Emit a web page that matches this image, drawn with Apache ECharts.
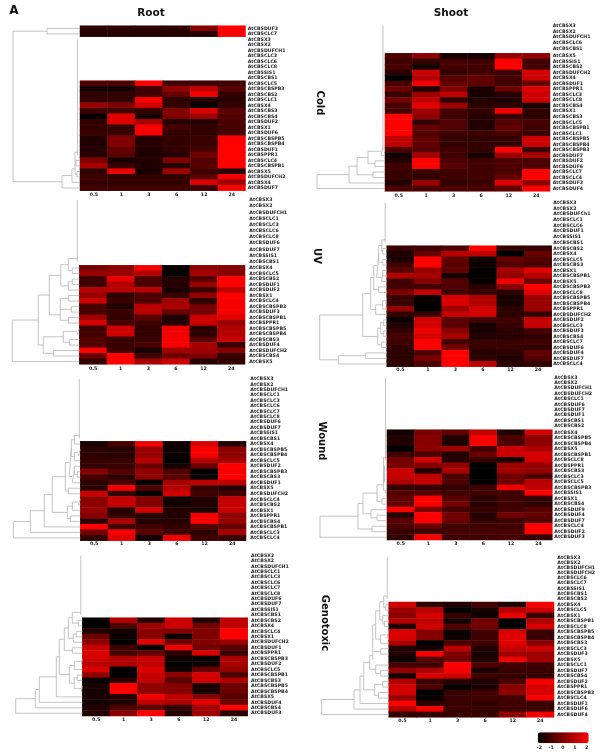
<!DOCTYPE html>
<html>
<head>
<meta charset="utf-8">
<title>CBS genes</title>
<script src="https://cdn.jsdelivr.net/npm/echarts@6/dist/echarts.min.js"></script>
<style>
  html, body { margin: 0; background: #fff; }
  #chart { width: 600px; height: 756px; filter: blur(0.3px); }
</style>
</head>
<body>
<div id="chart"></div>
<script>
const hours = ['0.5', '1', '3', '6', '12', '24'];
const scaleTicks = [-2, -1, 0, 1, 2];

// Root / Cold (no blank block on top, empty rows are kept in the matrix)
const rootColdGenes = ['AtCBSDUF3','AtCBSCLC7','AtCBSX3','AtCBSX2','AtCBSDUFCH1','AtCBSCLC3','AtCBSCLC6','AtCBSCLC8','AtCBSSIS1','AtCBSCBS1','AtCBSCLC5','AtCBSCBSPB3','AtCBSCBS2','AtCBSCLC1','AtCBSX4','AtCBSCBS3','AtCBSCBS4','AtCBSDUF2','AtCBSX1','AtCBSDUF6','AtCBSCBSPB5','AtCBSCBSPB4','AtCBSDUF1','AtCBSPPR1','AtCBSCLC4','AtCBSCBSPB1','AtCBSX5','AtCBSDUFCH2','AtCBSX4','AtCBSDUF7'];
const rootColdValues = [
  [-1.3,-1.3,-1.3,-1.3,0.1,2],
  [-1.4,-1.4,-1.4,-1.4,-1.4,2],
  [],[],[],[],[],[],[],[],
  [-0.7,-0.7,1.9,-1,-1,-1],
  [-1.7,-1.7,-1,0.3,1,-0.6],
  [-1.2,-1.2,-1,-0.4,1.8,-1.2],
  [-1.2,-1.2,1.9,-1.3,-1.5,-1.3],
  [0.4,0,1.3,-1.2,-1.9,-1.2],
  [-1,-1,-1.2,0,1.4,-0.6],
  [-1.9,1.5,-1.6,0,0.5,-0.7],
  [-1.2,1.5,0.6,-1.4,-1.4,-0.8],
  [-1.2,-1.2,1.9,-0.9,-1.2,-0.9],
  [-1.1,-1.1,1.9,-1.2,-1.2,-0.9],
  [-1.5,0,-1.4,-1.2,-1.1,2],
  [-1.5,0,-1.4,-1.2,-1.1,2],
  [-1.4,-0.4,-1.5,-1.2,-0.9,2],
  [-1.4,-0.6,-1.5,-1.4,-0.2,2],
  [0,-1.6,-1.5,0,-0.7,2],
  [0.6,-1.1,-1.5,-1.4,-0.6,2],
  [-1.3,1.7,-1.6,0.5,-1,-1.4],
  [-1,-1.2,-1.2,-1.2,-0.6,1.8],
  [-1.2,-1.2,-1.2,-1.2,1.5,0.5],
  [-1,-1,-1,-1,-1,2]
];
const rootColdTree = [67,[33,0,1],[18,[8,[5,[2.5,2,3,4,5,6,7,8,9,10,11,12,13,14,15,16,17,18,19,20,21,22,23],[4,24,25],[3,26,27]],28],29]];

// Shoot / Cold
const shootColdBlank = ['AtCBSX3','AtCBSX2','AtCBSDUFCH1','AtCBSCLC6','AtCBSCBS1'];
const shootColdGenes = ['AtCBSX5','AtCBSSIS1','AtCBSCBS2','AtCBSDUFCH2','AtCBSX4','AtCBSDUF1','AtCBSPPR1','AtCBSCLC3','AtCBSCLC8','AtCBSCBS4','AtCBSX1','AtCBSCBS3','AtCBSCLC5','AtCBSCBSPB1','AtCBSCLC1','AtCBSCBSPB5','AtCBSCBSPB4','AtCBSCBSPB3','AtCBSDUF7','AtCBSDUF2','AtCBSDUF6','AtCBSCLC7','AtCBSCLC4','AtCBSDUF3','AtCBSDUF4'];
const shootColdValues = [
  [-0.8,0.2,-1.6,-1.7,0.3,0.3],
  [-1,-1.2,-0.9,-1,2,-1],
  [-0.9,-1.7,-0.9,-1,2,-1],
  [-1.3,1.2,-1.2,-1,-1,1.3],
  [-2,0.8,-0.6,-0.5,-1,1.2],
  [-0.9,1.8,-0.5,-0.5,-1,-0.4],
  [-0.3,-1.5,0,-1.6,-0.3,1.4],
  [-1.1,0.4,1,-1.6,-1.4,1.2],
  [-0.2,1,-1.3,-1.5,-1.5,1.2],
  [-0.9,1.6,0.5,-1.3,-1.3,-1.6],
  [-0.9,0.5,-0.9,-1.2,1.8,-1.2],
  [2,0.2,-1,-1.4,-1.1,-1.3],
  [2,-1.2,-0.7,-1.5,-0.7,-0.9],
  [2,-0.4,-0.7,-1.5,-0.5,-1],
  [2,-0.7,-1,-1,-0.8,-1.1],
  [1,-0.5,-1.2,-1.2,-1.2,1.2],
  [1,-0.5,-1.2,-1.2,-1.2,1.2],
  [-0.8,-0.6,-1,-1.2,2,-1.1],
  [-1.7,0.6,-1,-1.6,0.5,0.7],
  [-1.4,2,-0.8,-1,-0.8,-0.8],
  [-1,2,-0.6,-1,-0.8,-0.8],
  [-1.1,-1.1,-1,-1,-0.8,2],
  [-1.1,-1.2,-1,-1,-0.4,2],
  [-1.5,0.4,-1.2,-1.1,1.5,0.2],
  [-0.8,-0.8,-0.8,-0.8,-0.5,1.9]
];
const shootColdTree = [68,[36,[28,[17,[4,[2,0,1,2,3,4,5,6,7,8,9,10,11,12,13,14,15,16,17,18,19,20,21,22],23],[10,24,25]],[12,26,27]],28],29];

// Root / UV
const rootUvBlank = ['AtCBSX3','AtCBSX2','AtCBSDUFCH1','AtCBSCLC1','AtCBSCLC3','AtCBSCLC6','AtCBSCLC8','AtCBSDUF6','AtCBSDUF7','AtCBSSIS1','AtCBSCBS1'];
const rootUvGenes = ['AtCBSX4','AtCBSCLC5','AtCBSCBS2','AtCBSDUF1','AtCBSDUF2','AtCBSX1','AtCBSCLC4','AtCBSCBSPB3','AtCBSDUF3','AtCBSCBSPB1','AtCBSPPR1','AtCBSCBSPB5','AtCBSCBSPB4','AtCBSCBS3','AtCBSDUF4','AtCBSDUFCH2','AtCBSCBS4','AtCBSX5'];
const rootUvValues = [
  [-0.2,0.2,1.8,-1.9,0.2,0.1],
  [0.4,0.4,0.8,-2,0.6,0.1],
  [-1,1.6,-0.8,-1.4,-0.7,2],
  [-1,0.8,-0.8,-1.4,0.4,2],
  [0.8,0.9,0.9,-1.6,-1.1,1],
  [0.4,-1.3,-0.8,-1.1,0.3,2],
  [1.2,-1.1,-0.8,0.5,-1.3,1.9],
  [-0.9,-1.5,0.9,0.7,-0.2,1.9],
  [-0.9,-1.1,0.9,-0.3,-0.2,1.9],
  [0.5,-1.2,-0.6,-1.5,1.2,1.5],
  [1.3,-0.9,-1,-1.5,1.2,0.4],
  [-1,1.2,-1.2,1.8,-1.3,0.8],
  [-1,1.2,-1.2,1.8,-1.3,0.8],
  [-0.7,-1.1,-1.1,1.9,-0.6,1.1],
  [-0.7,-1.1,-0.8,1.9,0.6,-1.1],
  [1.9,-1,-1.6,0.5,0.5,0.1],
  [-0.3,2,-1,-0.3,0,-1.2],
  [-1.2,2,0.6,1.2,-1.4,-1.2]
];
const rootUvTree = [67,[41,[30,[18.5,[11,[2,0,1,2,3,4,5,6,7,8,9,10],[7,11,12]],[11,[7,13,14],15]],[19,[11,16,17],[8,18,19],[11,20,21]]],[36,[16,[2,22,23],[10,24,25]],[26,26,27]]],28];

// Shoot / UV
const shootUvBlank = ['AtCBSX3','AtCBSX2','AtCBSDUFCh1','AtCBSCLC1','AtCBSCLC6','AtCBSDUF1','AtCBSSIS1','AtCBSCBS1'];
const shootUvGenes = ['AtCBSCBS2','AtCBSX4','AtCBSCLC5','AtCBSCBS3','AtCBSX1','AtCBSCBSPB1','AtCBSX5','AtCBSCBSPB3','AtCBSCLC8','AtCBSCBSPB5','AtCBSCBSPB4','AtCBSPPR1','AtCBSDUFCH2','AtCBSDUF2','AtCBSCLC3','AtCBSDUF3','AtCBSCBS4','AtCBSCLC7','AtCBSDUF6','AtCBSDUF4','AtCBSDUF7','AtCBSCLC4'];
const shootUvValues = [
  [-1.1,-1,-0.8,2,-1.2,-1.1],
  [-1.5,-0.4,0.9,1,-2,-0.4],
  [-1.6,2,-0.5,-1.8,-0.4,-0.7],
  [-1,2,-0.6,-1.8,-0.7,-0.9],
  [-0.6,0.4,-0.5,-1.9,0.6,1.5],
  [0.8,0.6,-1.6,-1.9,0.3,0.8],
  [-1,0.1,-0.7,-1.9,1.7,-0.3],
  [-1,-1,-0.8,-1.3,0.2,2],
  [0,1.1,-1,-1.1,-1.3,1.5],
  [-1.1,-1.9,1.4,0.8,-1.6,0.4],
  [-1.1,-1.9,1.4,0.8,-1.6,0.4],
  [0.3,-2,0.5,1.3,-1.3,0.4],
  [-1.2,-1.1,1.1,1.3,-1.3,-1.2],
  [-1.8,1.3,-0.6,-1,-1,1.1],
  [-1.5,1.3,-0.6,-1.6,-1.1,1.1],
  [-1.2,1.7,0.1,-1.6,-1.3,-0.9],
  [-0.9,1.3,0.7,-1.5,-1.4,-1.2],
  [-1,2,-1,-1.1,-1.1,-1],
  [-1.2,2,-0.2,-1.1,-1.1,-1.2],
  [-1.3,-0.8,2,-1.4,-1.3,-0.5],
  [-1.3,-0.1,2,-1.2,-1.5,-0.7],
  [-1.3,-0.8,2,1,-1.3,-1.2]
];
const shootUvTree = [67,[24,[16,[13,[10,[8,[5,[1.5,0,1,2,3,4,5,6,7],[4,8,9]],[4,10,11]],[5,[4,12,13],14]],[8,15,16]],[11,[4,[1,17,18],19],20]],[9,[6,[3,21,22],[3,23,24]],[5,25,26]]],[48.5,[21,27,28],29]];

// Root / Wound
const rootWoundBlank = ['AtCBSX3','AtCBSX2','AtCBSDUFCH1','AtCBSCLC1','AtCBSCLC3','AtCBSCLC6','AtCBSCLC7','AtCBSCLC8','AtCBSDUF6','AtCBSDUF7','AtCBSSIS1','AtCBSCBS1'];
const rootWoundGenes = ['AtCBSX4','AtCBSCBSPB5','AtCBSCBSPB4','AtCBSCLC5','AtCBSDUF2','AtCBSCBSPB3','AtCBSCBS3','AtCBSDUF1','AtCBSX5','AtCBSDUFCH2','AtCBSCLC4','AtCBSCBS2','AtCBSX1','AtCBSPPR1','AtCBSCBS4','AtCBSCBSPB1','AtCBSCLC3','AtCBSCLC4'];
const rootWoundValues = [
  [-1.6,-0.9,1.8,-1.7,1.4,-1.4],
  [-1.3,-1.4,0.4,-1.8,1.9,0.2],
  [-1.3,-1.4,0.4,-1.8,1.9,0.2],
  [-1.2,-1.1,0.9,-2,0.8,0.5],
  [-1.2,-1.1,-0.3,-1.7,-0.3,2],
  [0.1,-0.7,0.3,-0.7,-2,1.9],
  [-0.9,-1.3,0.2,-0.6,-1.9,2],
  [-1.3,-0.8,-1.9,0.6,1,1],
  [-1.3,1.9,-0.7,0.8,-1.1,-1.4],
  [1.1,-1.2,-1.9,1.3,-1,-1],
  [0.2,1.1,0.1,-1.7,-1.5,1.1],
  [0.2,1.1,0,-1.7,-1.5,1.1],
  [0.3,-1.4,1.3,-1.4,-1.6,1.1],
  [0.1,-1.2,-1.4,-1.5,1.9,0.2],
  [-1.3,0.7,-1.4,-1.4,1.9,0.4],
  [2,-1,-1,-1.2,-0.7,-0.4],
  [-0.2,1.9,-0.6,-1,-1.3,0.6],
  [-1.2,1.5,-1.6,1.8,-1,-1.1]
];
const rootWoundTree = [67,[50,[36,[28,[15,[11,[9,[6,[1,0,1,2,3,4,5,6,7,8,9,10,11],12],[6,[2,13,14],15]],[8,[6,16,[3,17,18]],19]],[12,20,21]],[13,[8,[2,22,23],24],[10,25,26]]],27],28],29];

// Shoot / Wound
const shootWoundBlank = ['AtCBSX3','AtCBSX2','AtCBSDUFCH1','AtCBSDUFCH2','AtCBSCLC1','AtCBSDUF6','AtCBSDUF7','AtCBSDUF1','AtCBSCBS1','AtCBSCBS2'];
const shootWoundGenes = ['AtCBSX4','AtCBSCBSPB5','AtCBSCBSPB4','AtCBSX5','AtCBSCBSPB1','AtCBSCLC8','AtCBSPPR1','AtCBSCBS3','AtCBSCLC3','AtCBSCLC5','AtCBSCBSPB3','AtCBSSIS1','AtCBSX1','AtCBSCBS4','AtCBSDUF9','AtCBSDUF4','AtCBSDUF7','AtCBSCLC4','AtCBSDUF2','AtCBSDUF3'];
const shootWoundValues = [
  [-1.7,-0.1,-0.5,1,-1.5,1.3],
  [-1.5,0.1,-1.5,1.9,-0.8,0.2],
  [-1.5,0.1,-1.5,1.9,-0.8,0.2],
  [-2,0.2,0.5,-1,1.2,0.7],
  [-1,-0.8,-1.5,-0.3,1.2,1.3],
  [-0.2,1.3,-1.4,-1.1,-1.6,1.3],
  [-0.1,0,0.3,-2,0.5,0.3],
  [1.1,-1.4,0.7,-2,0.5,0.3],
  [1.1,1,-0.8,-2,-0.3,-0.8],
  [0.7,1.1,-0.8,-2,-0.3,0.9],
  [-1.2,-1.2,-1.2,-1,1.7,1],
  [-0.7,-0.7,-1,-1,-1,2],
  [-0.5,2,-0.6,-1.3,-1,-1.2],
  [-0.5,2,-0.2,-1.3,-1,-1.3],
  [2,-0.1,-0.9,-1.1,-1,-0.6],
  [-1.4,2,-0.2,-1.4,-0.2,-0.5],
  [-0.6,2,-0.3,-1.2,-1,-0.7],
  [-0.8,-0.3,-1,-1,-1,2],
  [-1.1,-1.1,-0.9,-0.9,-0.9,2],
  [-1.2,1.9,-1,-1,-0.9,-1.1]
];
const shootWoundTree = [67,[29,[24,[10,[3.5,[1.5,0,1,2,3,4,5,6,7,8,9,10,11,12,13,14,15],[2.5,16,17,18,19],[2,20,21]],[5,22,23]],[16,24,[10,25,26]]],[15,27,28]],29];

// Root / Genotoxic
const rootGenoBlank = ['AtCBSX3','AtCBSX2','AtCBSDUFCH1','AtCBSCLC1','AtCBSCLC3','AtCBSCLC6','AtCBSCLC7','AtCBSCLC8','AtCBSDUF6','AtCBSDUF7','AtCBSSIS1','AtCBSCBS1'];
const rootGenoGenes = ['AtCBSCBS2','AtCBSX4','AtCBSCLC4','AtCBSX1','AtCBSDUFCH2','AtCBSDUF1','AtCBSPPR1','AtCBSCBSPB3','AtCBSDUF2','AtCBSCLC5','AtCBSCBSPB1','AtCBSCBS3','AtCBSCBSPB5','AtCBSCBSPB4','AtCBSX5','AtCBSDUF4','AtCBSCBS4','AtCBSDUF3'];
const rootGenoValues = [
  [-1.9,0.8,-1.4,1.2,-1.5,1],
  [-2,-0.8,0.5,1.2,-0.2,1],
  [-1.4,-1.7,0.2,0,0,2],
  [-0.3,-1.8,0.1,-1.8,0,2],
  [0.2,-2,1.5,-0.2,0,0.4],
  [1.1,-1,-1.9,1.7,-0.2,-0.6],
  [1.4,-1,-0.5,-1.3,1.4,-1.1],
  [1.3,0.8,1.1,-1.7,-1.9,0.6],
  [0.9,0.7,1,-2,-1.8,0.7],
  [1.4,-2,1.4,-1.7,-0.4,0.3],
  [0.3,-2,1.1,0.2,1.3,-0.8],
  [-1.9,-1.3,1,-0.6,1.3,0.7],
  [-1.6,2,0.2,0.1,-1.6,-0.3],
  [-1.6,2,0.2,0.1,-1.6,-0.3],
  [-1.6,-1.4,1.8,1,0,-0.6],
  [-1.7,-1.5,1,0.7,1.6,-0.3],
  [-1.5,-0.8,-0.6,-1.2,0.5,2],
  [-1.4,0.2,2,-1.4,0.5,-1.3]
];
const rootGenoTree = [66.6,[47,[43,[26,[23,[18,[14,[10,[1.5,0,1,2,3,4,5,6,7,8,9,10,11],[4,12,13]],[9,[6,14,15],16]],[10,17,18]],[13,[8,[1,19,20],21],[8,[5,22,23],[1,24,25]]]],26],27],28],29];

// Shoot / Genotoxic
const shootGenoBlank = ['AtCBSX3','AtCBSX2','AtCBSDUFCH1','AtCBSDUFCH2','AtCBSCLC6','AtCBSCLC7','AtCBSSIS1','AtCBSCBS1','AtCBSCBS2'];
const shootGenoGenes = ['AtCBSX4','AtCBSCLC5','AtCBSX1','AtCBSCBSPB1','AtCBSCLC8','AtCBSCBSPB5','AtCBSCBSPB4','AtCBSCBS3','AtCBSCLC3','AtCBSDUF3','AtCBSX5','AtCBSCLC1','AtCBSDUF7','AtCBSCBS4','AtCBSDUF2','AtCBSPPR1','AtCBSCBSPB3','AtCBSCLC4','AtCBSDUF1','AtCBSDUF6','AtCBSDUF4'];
const shootGenoValues = [
  [1.3,-1.3,-1.5,-0.9,-1.6,1.9],
  [0.4,0.9,-2,-1.6,0.9,1.2],
  [0.2,1.3,-1.1,-1.8,1.6,-1.1],
  [0.8,1,-1.7,-0.2,-1.9,0.8],
  [-1.5,1.3,-0.7,-0.2,-2,1.4],
  [1.4,0.1,-1.8,-1,1.4,-1.1],
  [1.4,0.1,-1.8,-1,1.5,-1.1],
  [0.7,-2,-0.8,-1,1.5,0.1],
  [-1.5,-1.6,0.9,-1.5,1.1,1.2],
  [-1.5,1.9,0,-1.6,0.5,0.4],
  [-1.8,-0.7,-0.2,-1.5,1.7,0.6],
  [-0.9,-1,2,-0.8,-1,-1],
  [0.3,0.7,1.8,-1.6,-1.1,-1.1],
  [-1.6,1.4,1.2,-1,-1.2,-1.2],
  [0.8,-1.1,-1.4,-1.5,-0.8,1.9],
  [1.3,-0.8,-1.9,-1.6,0.1,1.4],
  [1.3,-2,-1.1,-1,0.2,1.4],
  [0.3,-1.9,-1.1,-1,-1,1.9],
  [2,-1.3,-1.1,-1.2,-1,-1.1],
  [0.8,1.9,-1.1,-1.2,-1,-1.1],
  [-1.2,-1.2,-1.1,-1.1,0.2,1.8]
];
const shootGenoTree = [67,[34.7,[28.7,[25,[19,[16,[13,[9,[5,[1.5,0,1,2,3,4,5,6,7,8],[3,9,10]],[6,11,[4,12,13]]],[8,[2,14,15],16]],[8,17,18],19],[13,20,[8,21,22]]],[14,[6,23,24],[10,25,26]]],27],28],29];

const panels = [
  {genes: rootColdGenes, blank: [], values: rootColdValues, tree: rootColdTree, left: 80, right: 245.5, top: 25.7, bottom: 190.7, labelX: 247.7, tickY: 194.7},
  {genes: shootColdGenes, blank: shootColdBlank, values: shootColdValues, tree: shootColdTree, left: 385, right: 550, top: 53.3, bottom: 191.3, first: 25.7, last: 48.7, labelX: 552.7, tickY: 195.3},
  {genes: rootUvGenes, blank: rootUvBlank, values: rootUvValues, tree: rootUvTree, left: 79.3, right: 245, top: 265.3, bottom: 364.3, first: 200, last: 261.7, labelX: 249.3, tickY: 368.7},
  {genes: shootUvGenes, blank: shootUvBlank, values: shootUvValues, tree: shootUvTree, left: 386.7, right: 551.7, top: 245.7, bottom: 366.7, first: 202.7, last: 242.7, labelX: 553.3, tickY: 369.7},
  {genes: rootWoundGenes, blank: rootWoundBlank, values: rootWoundValues, tree: rootWoundTree, left: 80.3, right: 246, top: 441.3, bottom: 540.7, first: 379, last: 438.3, labelX: 250.3, tickY: 544},
  {genes: shootWoundGenes, blank: shootWoundBlank, values: shootWoundValues, tree: shootWoundTree, left: 387, right: 552.3, top: 429.7, bottom: 540, first: 377.3, last: 426, labelX: 554.3, tickY: 543.7},
  {genes: rootGenoGenes, blank: rootGenoBlank, values: rootGenoValues, tree: rootGenoTree, left: 82.3, right: 247.7, top: 617.7, bottom: 716, first: 555.7, last: 615, labelX: 251, tickY: 720},
  {genes: shootGenoGenes, blank: shootGenoBlank, values: shootGenoValues, tree: shootGenoTree, left: 388.7, right: 554, top: 602, bottom: 717.3, first: 557.3, last: 598.7, labelX: 557.3, tickY: 721}
];

const FONT = '"DejaVu Sans"';
const smallText = {fontFamily: FONT, fontSize: 4.7, fontWeight: 'bold', color: '#222'};
const W = 600, H = 756;

let grids = [], xAxes = [], yAxes = [], series = [], heatIndex = [];

function addGrid(grid, xAxis, yAxis) {
  grids.push(grid);
  xAxes.push(Object.assign({gridIndex: grids.length - 1}, xAxis));
  yAxes.push(Object.assign({gridIndex: grids.length - 1}, yAxis));
  return grids.length - 1;
}

// walks the tree, pushes the U shapes as one broken line
function dendrogram(node, rowY, pts) {
  if (typeof node === 'number') return {d: 0, y: rowY(node)};
  const kids = node.slice(1).map(k => dendrogram(k, rowY, pts));
  const d = node[0];
  const n = kids.length;
  if (n === 2) {
    pts.push([kids[0].d, kids[0].y], [d, kids[0].y], [d, kids[1].y], [kids[1].d, kids[1].y], '-');
  } else {
    // collapsed chain: only the spine is visible at this size
    pts.push([d, kids[0].y], [d, kids[n - 1].y], '-');
    kids.forEach(k => { if (k.d > 0) pts.push([k.d, k.y], [d, k.y], '-'); });
  }
  return {d: d, y: (kids[n - 2].y + kids[n - 1].y) / 2};
}

panels.forEach(function (p) {
  // heat grid with the gene labels
  const heatGrid = addGrid(
    {left: p.left, top: p.top, width: p.right - p.left, height: p.bottom - p.top},
    {type: 'category', data: hours, axisLine: {show: false}, axisTick: {show: false}, splitLine: {show: false},
      axisLabel: Object.assign({margin: p.tickY - p.bottom - 2.5, interval: 0}, smallText)},
    {type: 'category', data: p.genes, inverse: true, position: 'right', axisLine: {show: false}, axisTick: {show: false}, splitLine: {show: false},
      axisLabel: Object.assign({margin: p.labelX - p.right, interval: 0, align: 'left'}, smallText)}
  );
  const cells = [];
  p.values.forEach((row, r) => row.forEach((v, c) => cells.push([c, r, v])));
  heatIndex.push(series.length);
  series.push({type: 'heatmap', xAxisIndex: heatGrid, yAxisIndex: heatGrid, data: cells, progressive: 0, itemStyle: {borderWidth: 0}});

  // genes with no signal sit in their own block, spaced a bit wider
  const nb = p.blank.length;
  const step = nb > 1 ? (p.last - p.first) / (nb - 1) : 0;
  if (nb) {
    addGrid(
      {left: p.left, top: p.first - step / 2, width: p.right - p.left, height: nb * step},
      {type: 'value', show: false, min: 0, max: 1},
      {type: 'category', data: p.blank, inverse: true, position: 'right', axisLine: {show: false}, axisTick: {show: false}, splitLine: {show: false},
        axisLabel: Object.assign({margin: p.labelX - p.right, interval: 0, align: 'left'}, smallText)}
    );
  }

  // dendrogram
  const rowH = (p.bottom - p.top) / p.genes.length;
  const rowY = i => i < nb ? p.first + i * step : p.top + (i - nb + 0.5) * rowH;
  const pts = [];
  dendrogram(p.tree, rowY, pts);
  const dendroGrid = addGrid(
    {left: 0, top: 0, width: p.left, height: H},
    {type: 'value', show: false, inverse: true, min: 0, max: p.left},
    {type: 'value', show: false, inverse: true, min: 0, max: H}
  );
  series.push({type: 'line', xAxisIndex: dendroGrid, yAxisIndex: dendroGrid, data: pts, showSymbol: false, connectNulls: false,
    lineStyle: {color: '#b4b4b4', width: 0.8}, silent: true});
});

// ticks under the colour key
addGrid(
  {left: 539.3, top: 732.3, width: 47.4, height: 11},
  {type: 'value', min: scaleTicks[0], max: scaleTicks[scaleTicks.length - 1], interval: 1, axisLine: {show: false}, axisTick: {show: false}, splitLine: {show: false},
    axisLabel: Object.assign({margin: 2.2, showMinLabel: true, showMaxLabel: true}, smallText)},
  {type: 'value', show: false}
);

function titleText(text, x, y, rot, size) {
  return {type: 'text', x: x, y: y, rotation: rot || 0, silent: true,
    style: {text: text, fontFamily: FONT, fontWeight: 'bold', fontSize: size || 10, fill: '#111', align: 'center', verticalAlign: 'middle'}};
}

const option = {
  animation: false,
  backgroundColor: '#fff',
  grid: grids,
  xAxis: xAxes,
  yAxis: yAxes,
  series: series,
  visualMap: {
    type: 'continuous', seriesIndex: heatIndex, min: -2, max: 2, calculable: false, orient: 'horizontal',
    left: 537.7, top: 732.3, itemWidth: 11, itemHeight: 51, padding: 0, text: ['', ''], showLabel: false,
    inRange: {color: ['#000000', '#ff0000']}
  },
  graphic: [
    titleText('A', 14, 11, 0, 12),
    titleText('Root', 151, 13, 0, 10.5),
    titleText('Shoot', 451, 13, 0, 10.5),
    titleText('Cold', 319.5, 103, -Math.PI / 2),
    titleText('UV', 317, 256, -Math.PI / 2),
    titleText('Wound', 321.7, 441, -Math.PI / 2),
    titleText('Genotoxic', 325, 623, -Math.PI / 2)
  ]
};

let myChart = echarts.init(document.getElementById('chart'), null, {renderer: 'canvas', width: W, height: H});
myChart.setOption(option);
</script>
</body>
</html>
